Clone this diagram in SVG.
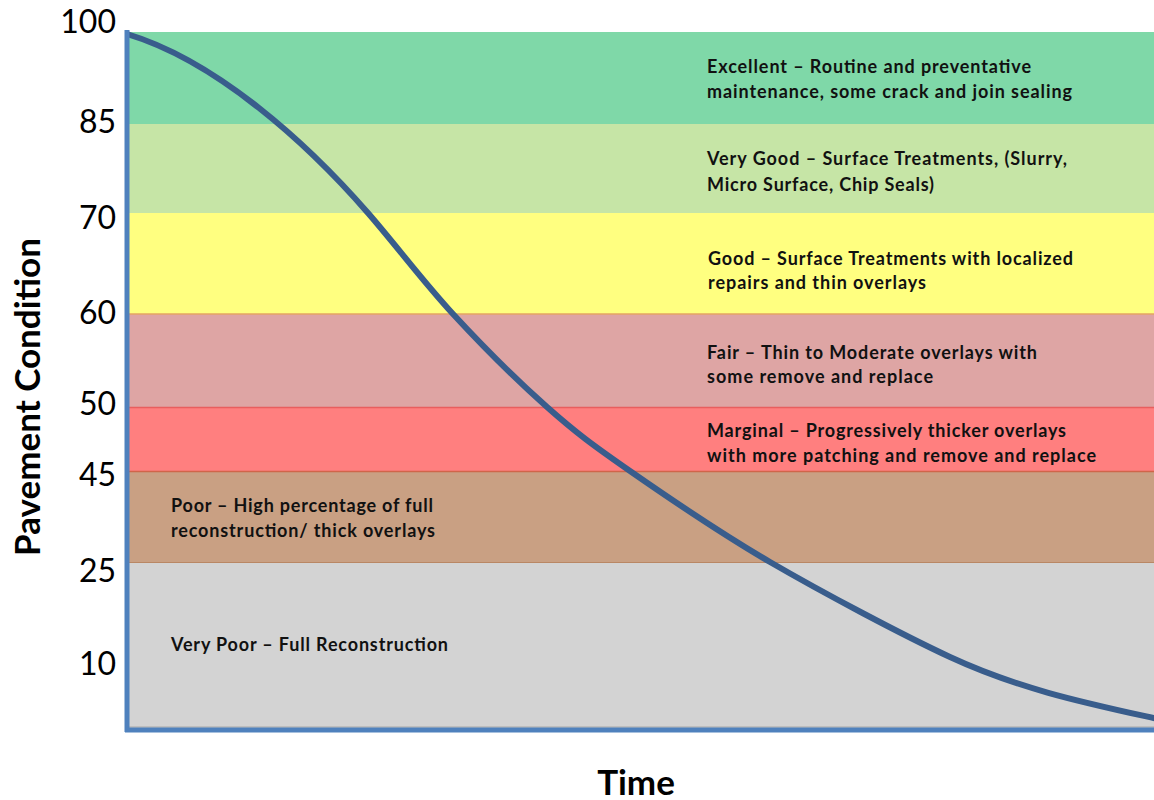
<svg xmlns="http://www.w3.org/2000/svg" width="1154" height="800" viewBox="0 0 1154 800">
<style>
.lbl{font-family:Lato,"Liberation Sans",sans-serif;font-weight:bold;font-size:18px;fill:#111}
.tick{font-family:Lato,"Liberation Sans",sans-serif;font-size:32px;fill:#000;text-anchor:end}
.axt{font-family:Lato,"Liberation Sans",sans-serif;font-weight:bold;font-size:35px;fill:#000;text-anchor:middle}
</style>
<rect width="1154" height="800" fill="#fff"/>
<g id="bands">
<rect id="band-excellent" x="128" y="32" width="1026" height="92" fill="#7fd8a8"/>
<rect id="band-verygood" x="128" y="124" width="1026" height="89" fill="#c6e5a6"/>
<rect id="band-good" x="128" y="213" width="1026" height="101" fill="#ffff80"/>
<rect id="band-fair" x="128" y="314" width="1026" height="93" fill="#dea5a4"/>
<rect id="band-marginal" x="128" y="407" width="1026" height="64" fill="#ff7f7f"/>
<rect id="band-poor" x="128" y="471" width="1026" height="91" fill="#c9a083"/>
<rect id="band-verypoor" x="128" y="562" width="1026" height="166" fill="#d3d3d3"/>
<line x1="128" y1="314" x2="1154" y2="314" stroke="#e4a463" stroke-width="1.5"/>
<line x1="128" y1="407.5" x2="1154" y2="407.5" stroke="#e85e5e" stroke-width="1.5"/>
<line x1="128" y1="471.5" x2="1154" y2="471.5" stroke="#d0654a" stroke-width="1.5"/>
<line x1="128" y1="562.5" x2="1154" y2="562.5" stroke="#b98764" stroke-width="1.2"/>
<line x1="128" y1="727" x2="1154" y2="727" stroke="#a8a8a8" stroke-width="1.2"/>
</g>
<g id="band-labels">
<text class="lbl" x="707" y="73" textLength="324">Excellent – Routine and preventative</text>
<text class="lbl" x="707" y="98" textLength="365">maintenance, some crack and join sealing</text>
<text class="lbl" x="707" y="165" textLength="360">Very Good – Surface Treatments, (Slurry,</text>
<text class="lbl" x="707" y="191" textLength="227">Micro Surface, Chip Seals)</text>
<text class="lbl" x="708" y="265" textLength="365">Good – Surface Treatments with localized</text>
<text class="lbl" x="708" y="289" textLength="218">repairs and thin overlays</text>
<text class="lbl" x="707" y="359" textLength="330">Fair – Thin to Moderate overlays with</text>
<text class="lbl" x="707" y="383" textLength="226">some remove and replace</text>
<text class="lbl" x="707" y="437" textLength="359">Marginal – Progressively thicker overlays</text>
<text class="lbl" x="707" y="462" textLength="389">with more patching and remove and replace</text>
<text class="lbl" x="171" y="512" textLength="262">Poor – High percentage of full</text>
<text class="lbl" x="171" y="537" textLength="264">reconstruction/ thick overlays</text>
<text class="lbl" x="171" y="651" textLength="277">Very Poor – Full Reconstruction</text>
</g>
<g id="curve">
<path d="M127,34 C217,61 308,144 368,213 C396,245.2 423.17,281.67 453,314 C482.83,346.33 517.5,380.83 547,407 C576.5,433.17 592.83,445.17 630,471 C667.17,496.83 716.67,531 770,562 C823.33,593 903.33,635.33 950,657 C1020,689.5 1088,703.5 1158,719" fill="none" stroke="#395d8c" stroke-width="6" stroke-linecap="butt"/>
</g>
<g id="axes">
<line x1="127" y1="30" x2="127" y2="732" stroke="#4f81bd" stroke-width="5"/>
<line x1="125" y1="730" x2="1154" y2="730" stroke="#4f81bd" stroke-width="5"/>
</g>
<g id="ticks">
<text class="tick" x="116" y="33">100</text>
<text class="tick" x="116" y="133">85</text>
<text class="tick" x="116" y="229">70</text>
<text class="tick" x="116" y="324">60</text>
<text class="tick" x="116" y="415">50</text>
<text class="tick" x="116" y="486">45</text>
<text class="tick" x="116" y="582">25</text>
<text class="tick" x="116" y="675">10</text>
</g>
<g id="axis-titles">
<text class="axt" transform="translate(40,397) rotate(-90)">Pavement Condition</text>
<text class="axt" x="636" y="795">Time</text>
</g>
</svg>
